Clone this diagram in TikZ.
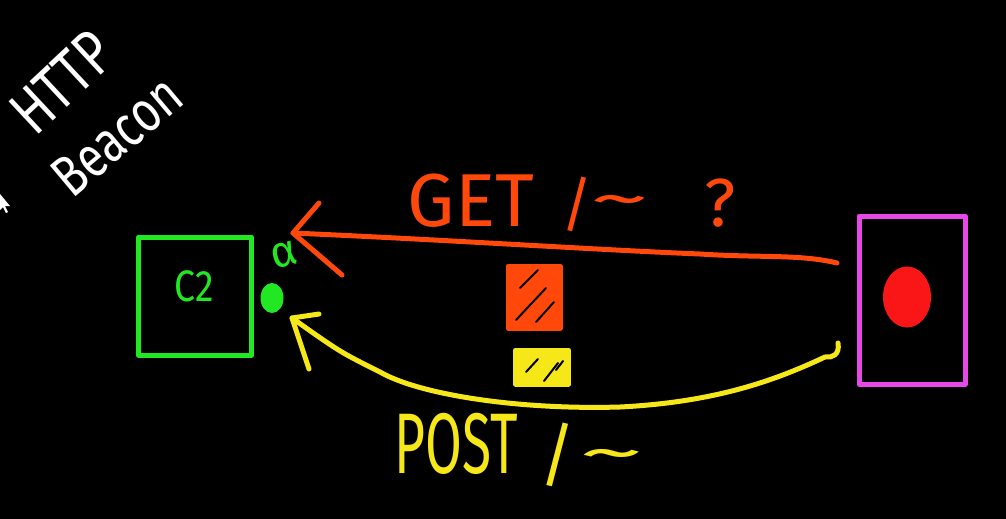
\documentclass[tikz,border=0pt]{standalone}
\usepackage{fontspec}
\usetikzlibrary{shapes.geometric}
\setmainfont{Fira Sans}
\definecolor{pengreen}{RGB}{34,232,34}
\definecolor{penorange}{RGB}{255,72,10}
\definecolor{penyellow}{RGB}{246,232,24}
\definecolor{penmagenta}{RGB}{232,72,232}
\definecolor{penred}{RGB}{250,22,22}
\begin{document}
\begin{tikzpicture}[x=1pt,y=-1pt,
  pen/.style={line width=5pt, line cap=round, line join=round},
  hatch/.style={line width=2pt, line cap=round, black},
  lbl/.style={inner sep=0pt, outer sep=0pt, anchor=center}]
\fill[black] (0,0) rectangle (1006,519);
\useasboundingbox (0,0) rectangle (1006,519);

% title
\node[lbl, white, rotate=43] (http) at (62,82) {\fontsize{64}{64}\selectfont\scalebox{0.78}[1]{HTTP}};
\node[lbl, white, rotate=40] (beacon) at (117,136) {\fontsize{58}{58}\selectfont\scalebox{0.78}[1]{Beacon}};

% mouse cursor
\fill[white] (0,194) -- (0,210) -- (3,207) -- (6,213) -- (8,212) -- (5,206) -- (10,206) -- cycle;

% C2 box
\node[lbl, draw=pengreen, pen, rectangle, minimum width=113pt, minimum height=118pt] (c2) at (195,296) {};
\node[lbl, pengreen] (c2t) at (194,286) {\fontsize{44}{44}\selectfont\scalebox{0.85}[1]{C2}};
\node[lbl, pengreen, rotate=15] (alpha) at (284,255) {\fontsize{44}{44}\selectfont α};
\node[lbl, fill=pengreen, ellipse, minimum width=23pt, minimum height=30pt] (gdot) at (272,298) {};

% victim box
\node[lbl, draw=penmagenta, pen, rectangle, minimum width=106pt, minimum height=168pt] (victim) at (912,300) {};
\node[lbl, fill=penred, ellipse, minimum width=48pt, minimum height=61pt] (rdot) at (907,297) {};

% GET request
\coordinate (getstart) at (837,263);
\coordinate (gettip) at (293,233);
\draw[pen, penorange] (getstart) .. controls (800,254) and (760,258) .. (700,254)
  .. controls (600,250) and (450,240) .. (gettip);
\draw[pen, penorange] (319,203) -- (gettip) -- (342,275);
\node[lbl, penorange] (gettext) at (471,201) {\fontsize{75}{75}\selectfont GET};
\node[lbl, penorange] (getslash) at (577,204) {\fontsize{60}{60}\selectfont /};
\node[lbl, penorange] (gettilde) at (620,207) {\fontsize{60}{60}\selectfont\scalebox{2}[1]{\textasciitilde}};
\node[lbl, penorange] (getq) at (720,203) {\fontsize{68}{68}\selectfont ?};

% data blocks
\node[lbl, fill=penorange, draw=penorange, pen, rectangle, minimum width=52pt, minimum height=62pt] (getdata) at (534,297) {};
\draw[hatch] (520,288) -- (538,270);
\draw[hatch] (516,320) -- (546,288);
\draw[hatch] (536,322) -- (554,302);
\node[lbl, fill=penyellow, draw=penyellow, pen, rectangle, minimum width=53pt, minimum height=34pt] (postdata) at (542,367) {};
\draw[hatch] (526,372) -- (538,359);
\draw[hatch] (544,381) -- (558,363);
\draw[hatch] (556,370) -- (563,361);

% POST request
\coordinate (poststart) at (838,343);
\coordinate (posttip) at (292,318);
\draw[pen, penyellow] (poststart) .. controls (840,355) and (832,358) .. (825,357)
  .. controls (780,378) and (720,402) .. (620,407)
  .. controls (520,410) and (420,395) .. (380,372)
  .. controls (340,352) .. (posttip);
\draw[pen, penyellow] (319,314) -- (posttip) -- (309,369);
\node[lbl, penyellow] (posttext) at (456,444) {\fontsize{86}{86}\selectfont\scalebox{0.62}[1]{POST}};
\node[lbl, penyellow] (postslash) at (558,455) {\fontsize{70}{70}\selectfont /};
\node[lbl, penyellow] (posttilde) at (612,461) {\fontsize{60}{60}\selectfont\scalebox{2.2}[1]{\textasciitilde}};
\end{tikzpicture}
\end{document}
